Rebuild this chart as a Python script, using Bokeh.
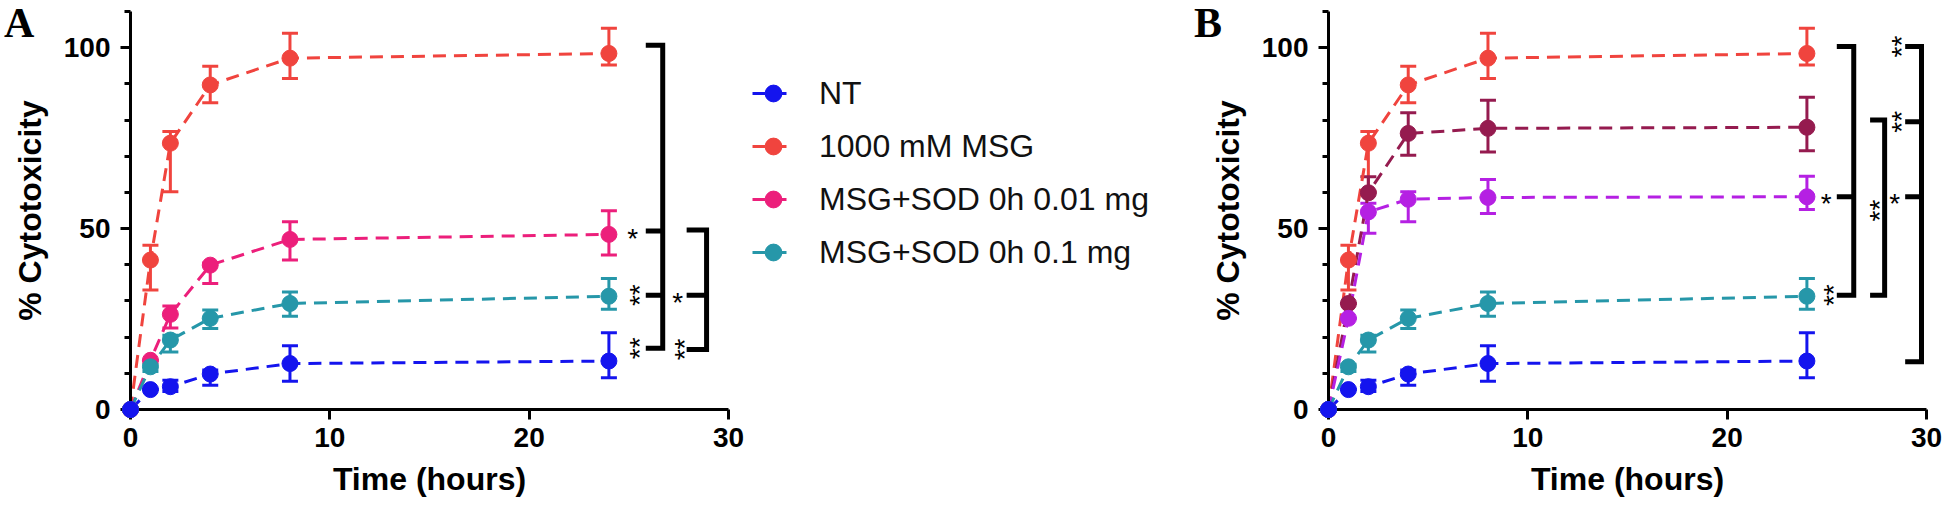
import math
from bokeh.plotting import figure
from bokeh.models import (Range1d, FixedTicker, Legend, LegendItem, Whisker,
                          TeeHead, ColumnDataSource)
from bokeh.layouts import row
from bokeh.embed import file_html
from bokeh.resources import INLINE
from bokeh.core.properties import value

# ---------------- data ----------------
time_h = [0, 1, 2, 4, 8, 24]

nt_mean = [0, 5.5, 6.3, 9.8, 12.7, 13.4]
nt_upper = [0, 5.5, 8.1, 10.9, 17.6, 21.2]
nt_lower = [0, 5.5, 5.0, 6.7, 7.8, 8.8]

msg_mean = [0, 41.3, 73.6, 89.7, 97.1, 98.4]
msg_upper = [0, 45.4, 76.8, 94.9, 104.0, 105.4]
msg_lower = [0, 33.0, 60.2, 84.8, 91.5, 95.2]

sod001_mean = [0, 13.6, 26.3, 39.9, 47.0, 48.4]
sod001_upper = [0, 13.6, 28.6, 40.5, 51.9, 54.9]
sod001_lower = [0, 13.6, 22.5, 34.8, 41.3, 42.7]

sod01_mean = [0, 11.8, 19.2, 25.2, 29.3, 31.3]
sod01_upper = [0, 12.5, 20.5, 27.5, 32.5, 36.2]
sod01_lower = [0, 10.5, 15.9, 22.4, 25.8, 27.7]

maroon_mean = [0, 29.3, 59.9, 76.3, 77.7, 78.0]
maroon_upper = [0, 29.3, 64.3, 82.0, 85.5, 86.3]
maroon_lower = [0, 29.3, 59.9, 70.3, 71.2, 71.5]

purple_mean = [0, 25.2, 54.6, 58.1, 58.6, 58.8]
purple_upper = [0, 25.2, 57.0, 60.2, 63.6, 64.5]
purple_lower = [0, 25.2, 48.7, 51.9, 54.2, 55.3]

legend_labels = ["NT", "1000 mM MSG", "MSG+SOD 0h 0.01 mg", "MSG+SOD 0h 0.1 mg"]
panel_letters = ["A", "B"]

x_ticks = [0, 10, 20, 30]
y_ticks = [0, 50, 100]
y_minor = [10, 20, 30, 40, 60, 70, 80, 90, 110]

# significance brackets: levels (% cytotoxicity) and marks
bracketA1_levels = [100.7, 49.3, 31.6, 16.9]
bracketA1_marks = ["", "*", "**", "**"]
bracketA2_levels = [49.6, 31.6, 16.6]
bracketA2_marks = ["", "*", "**"]
bracketB1_levels = [100.3, 58.8, 31.6]
bracketB1_marks = ["", "*", "**"]
bracketB2_levels = [80.0, 31.6]
bracketB2_mark = "**"
bracketB3_levels = [100.3, 79.5, 58.8, 13.2]
bracketB3_marks = ["**", "**", "*", ""]

C_NT = "#1414EE"
C_MSG = "#F0443E"
C_SOD001 = "#EC1F7B"
C_SOD01 = "#2697A9"
C_MAROON = "#951B4F"
C_PURPLE = "#B520E3"

FONT = "Liberation Sans"
DASH = "13 8"


def make_fig(border_left, border_right):
    p = figure(frame_width=598, frame_height=398,
               min_border_left=border_left, min_border_right=border_right,
               min_border_top=11, min_border_bottom=105,
               x_range=Range1d(0, 30), y_range=Range1d(0, 110),
               output_backend="svg", toolbar_location=None)
    p.outline_line_color = None
    p.grid.visible = False
    p.background_fill_color = None
    p.border_fill_color = "white"
    p.xaxis.ticker = FixedTicker(ticks=x_ticks)
    p.yaxis.ticker = FixedTicker(ticks=y_ticks, minor_ticks=y_minor)
    for ax in (p.xaxis[0], p.yaxis[0]):
        ax.axis_line_width = 3
        ax.axis_line_color = "black"
        ax.major_tick_line_width = 3
        ax.major_tick_line_color = "black"
        ax.major_tick_out = 10
        ax.major_tick_in = 0
        ax.major_label_text_font = FONT
        ax.major_label_text_font_style = "bold"
        ax.major_label_text_font_size = "28px"
        ax.major_label_text_color = "black"
        ax.axis_label_text_font = FONT
        ax.axis_label_text_font_style = "bold"
        ax.axis_label_text_font_size = "32px"
        ax.axis_label_text_color = "black"
    p.xaxis.minor_tick_line_color = None
    p.yaxis.minor_tick_line_width = 3
    p.yaxis.minor_tick_line_color = "black"
    p.yaxis.minor_tick_out = 6
    p.yaxis.minor_tick_in = 0
    p.xaxis.axis_label = "Time (hours)"
    p.yaxis.axis_label = "% Cytotoxicity"
    p.xaxis.major_label_standoff = 8
    p.yaxis.major_label_standoff = 10
    p.xaxis.axis_label_standoff = 11
    p.yaxis.axis_label_standoff = 13
    return p


def add_series(p, mean, upper, lower, color):
    src = ColumnDataSource(dict(t=time_h, m=mean, u=upper, l=lower))
    w = Whisker(base="t", upper="u", lower="l", source=src,
                line_color=color, line_width=3,
                upper_head=TeeHead(size=16, line_color=color, line_width=3),
                lower_head=TeeHead(size=16, line_color=color, line_width=3))
    p.add_layout(w)
    p.line("t", "m", source=src, line_color=color, line_width=3, line_dash=DASH)
    sr = p.scatter("t", "m", source=src, size=16, marker="circle",
                   fill_color=color, line_color=color)
    sr.level = "overlay"


def add_bracket(p, levels, x0, vx):
    top, bottom = levels[0], levels[-1]
    p.multi_line(xs=[[x0, vx, vx, x0]], ys=[[top, top, bottom, bottom]],
                 line_color="black", line_width=5, line_join="miter")
    mids = levels[1:-1]
    if mids:
        p.segment(x0=[x0] * len(mids), y0=mids, x1=[vx] * len(mids), y1=mids,
                  line_color="black", line_width=5)


def add_marks(p, xs, ys, marks):
    one_x = [x for x, m in zip(xs, marks) if m == "*"]
    one_y = [y for y, m in zip(ys, marks) if m == "*"]
    two_x = [x for x, m in zip(xs, marks) if m == "**"]
    two_y = [y for y, m in zip(ys, marks) if m == "**"]
    if one_x:
        p.text(x=one_x, y=one_y, text=["*"] * len(one_x),
               text_font=value(FONT), text_font_size=value("28px"),
               text_align="center", text_baseline="middle",
               text_color="black", y_offset=7)
    if two_x:
        p.text(x=two_x, y=two_y, text=["**"] * len(two_x), angle=math.pi / 2,
               text_font=value(FONT), text_font_size=value("28px"),
               text_align="center", text_baseline="middle",
               text_color="black", x_offset=7)


def panel_letter(p, letter, x):
    r = p.text(x=[x], y=[106.8], text=[letter],
               text_font=value("Liberation Serif"),
               text_font_style=value("bold"),
               text_font_size=value("42px"), text_color="black",
               text_align="left", text_baseline="alphabetic")
    r.level = "overlay"


# ---------------- panel A ----------------
pA = make_fig(130, 20)
add_series(pA, msg_mean, msg_upper, msg_lower, C_MSG)
add_series(pA, sod001_mean, sod001_upper, sod001_lower, C_SOD001)
add_series(pA, sod01_mean, sod01_upper, sod01_lower, C_SOD01)
add_series(pA, nt_mean, nt_upper, nt_lower, C_NT)

add_bracket(pA, bracketA1_levels, 25.85, 26.7)
add_bracket(pA, bracketA2_levels, 27.9, 28.9)
add_marks(pA, [25.2] * 4, bracketA1_levels, bracketA1_marks)
add_marks(pA, [27.45] * 3, bracketA2_levels, bracketA2_marks)
panel_letter(pA, panel_letters[0], -6.35)

# ---------------- legend (between the panels) ----------------
pL = figure(width=441, height=514, min_border=0,
            x_range=Range1d(0, 1), y_range=Range1d(0, 1),
            x_axis_type=None, y_axis_type=None,
            output_backend="svg", toolbar_location=None)
pL.outline_line_color = None
pL.grid.visible = False
nan = float("nan")
items = []
for lab, col in zip(legend_labels, [C_NT, C_MSG, C_SOD001, C_SOD01]):
    lr = pL.line(x=[nan], y=[nan], line_color=col, line_width=3, line_dash=DASH)
    sr = pL.scatter(x=[nan], y=[nan], size=16, marker="circle",
                    fill_color=col, line_color=col)
    items.append(LegendItem(label=lab, renderers=[lr, sr]))
legend = Legend(items=items, location=(4, 136), orientation="vertical")
legend.glyph_width = 42
legend.glyph_height = 42
legend.label_height = 30
legend.spacing = 11
legend.padding = 0
legend.margin = 0
legend.label_standoff = 25
legend.label_text_font = FONT
legend.label_text_font_size = "32px"
legend.label_text_color = "#111111"
legend.background_fill_alpha = 0
legend.border_line_color = None
pL.add_layout(legend)

# ---------------- panel B ----------------
pB = make_fig(139, 20)
add_series(pB, msg_mean, msg_upper, msg_lower, C_MSG)
add_series(pB, maroon_mean, maroon_upper, maroon_lower, C_MAROON)
add_series(pB, purple_mean, purple_upper, purple_lower, C_PURPLE)
add_series(pB, sod01_mean, sod01_upper, sod01_lower, C_SOD01)
add_series(pB, nt_mean, nt_upper, nt_lower, C_NT)

add_bracket(pB, bracketB1_levels, 25.5, 26.35)
add_bracket(pB, bracketB2_levels, 27.17, 27.9)
add_bracket(pB, bracketB3_levels, 28.93, 29.75)
add_marks(pB, [24.97] * 3, bracketB1_levels, bracketB1_marks)
add_marks(pB, [27.3], [sum(bracketB2_levels) / 2 - 0.8], [bracketB2_mark])
add_marks(pB, [28.4] * 4, bracketB3_levels, bracketB3_marks)
panel_letter(pB, panel_letters[1], -6.75)

layout = row(pA, pL, pB)
open("out.html", "w").write(file_html(layout, INLINE))
